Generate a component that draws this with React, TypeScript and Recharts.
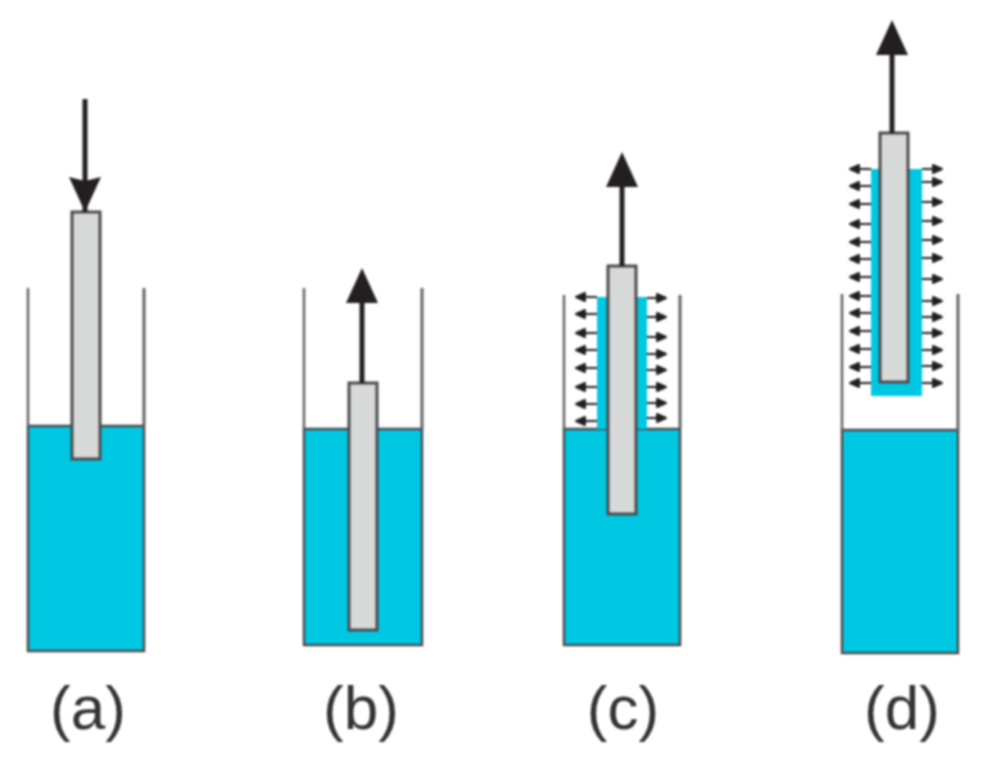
import { ScatterChart, Scatter, XAxis, YAxis, ReferenceArea, ReferenceLine } from "recharts";

const panelLabels = ["(a)", "(b)", "(c)", "(d)"];
const labelX = [88, 361, 623, 902];
const labelBaseline = [729, 729, 729, 729];

// everything below is in picture units, the axes map them 1:1
const wallLeft = [28, 304, 564, 842];
const wallRight = [144, 422, 680, 958];
const wallTop = [288, 288, 295, 294];
const waterLevel = [426, 429, 429, 430];
const waterBottom = [651, 645, 645, 653];

const rodLeft = [72, 349, 608, 880];
const rodRight = [100, 377, 636, 908];
const rodTop = [212, 383, 266, 133];
const rodBottom = [459, 630, 514, 382];

const arrowX = [85, 362, 622, 892];
const arrowFrom = [99, 383, 266, 133];
const arrowTip = [212, 268, 152, 20];

// coating pulled out with the rod, panels c and d
const coatLeft = [597, 871];
const coatRight = [647, 922];
const coatTop = [297, 169];
const coatBottom = [429, 396];

const leftRowsC = [297, 314, 333, 350, 368, 387, 404, 421];
const rightRowsC = [298, 317, 337, 354, 370, 387, 403, 418];
const leftRowsD = [169, 186, 204, 224, 242, 259, 277, 296, 313, 331, 349, 367, 383];
const rightRowsD = [169, 182, 202, 221, 240, 258, 279, 301, 317, 333, 350, 366, 383];
const tipLeft = [575, 849];
const tipRight = [667, 943];

const CYAN = "#00C8E3";
const LINE = "#4b4b4d";
const WALL = "#636365";
const DARK = "#231F20";

const upHeads = [1, 2, 3].map((i) => ({ x: arrowX[i], y: arrowTip[i] }));
const downHeads = [{ x: arrowX[0], y: arrowTip[0] }];
const leftHeads = [
    ...leftRowsC.map((y) => ({ x: tipLeft[0], y })),
    ...leftRowsD.map((y) => ({ x: tipLeft[1], y })),
];
const rightHeads = [
    ...rightRowsC.map((y) => ({ x: tipRight[0], y })),
    ...rightRowsD.map((y) => ({ x: tipRight[1], y })),
];
const labelPoints = panelLabels.map((text, i) => ({ x: labelX[i], y: labelBaseline[i], text }));

const UpHead = ({ cx, cy }: any) => (
    <polygon points={`${cx},${cy} ${cx - 16},${cy + 35} ${cx + 16},${cy + 35}`} fill={DARK} />
);
const DownHead = ({ cx, cy }: any) => (
    <polygon points={`${cx},${cy} ${cx - 16},${cy - 35} ${cx},${cy - 31} ${cx + 16},${cy - 35}`} fill={DARK} />
);
const LeftHead = ({ cx, cy }: any) => (
    <polygon
        points={`${cx + 1},${cy} ${cx + 10},${cy - 4} ${cx + 10},${cy + 4}`}
        fill={DARK}
        stroke={DARK}
        strokeWidth={2}
        strokeLinejoin="round"
    />
);
const RightHead = ({ cx, cy }: any) => (
    <polygon
        points={`${cx - 1},${cy} ${cx - 10},${cy - 4} ${cx - 10},${cy + 4}`}
        fill={DARK}
        stroke={DARK}
        strokeWidth={2}
        strokeLinejoin="round"
    />
);
const PanelLabel = ({ cx, cy, payload }: any) => (
    <text x={cx} y={cy} textAnchor="middle" fontSize={62} fontFamily="Liberation Sans" fill="#333335">
        {payload.text}
    </text>
);

const App = () => {
    return (
        <div style={{ position: "absolute", left: 0, top: 0, background: "#fff", filter: "blur(0.8px)" }}>
            <ScatterChart width={982} height={760} margin={{ top: 0, right: 0, bottom: 0, left: 0 }}>
                <XAxis type="number" dataKey="x" domain={[0, 982]} hide />
                <YAxis type="number" dataKey="y" domain={[0, 760]} reversed hide />

                {wallLeft.map((left, i) => (
                    <ReferenceArea
                        key={`water${i}`}
                        x1={left}
                        x2={wallRight[i]}
                        y1={waterLevel[i]}
                        y2={waterBottom[i]}
                        fill={CYAN}
                        fillOpacity={1}
                        stroke={LINE}
                        strokeWidth={2.5}
                    />
                ))}
                {coatLeft.map((left, i) => (
                    <ReferenceArea
                        key={`coat${i}`}
                        x1={left}
                        x2={coatRight[i]}
                        y1={coatTop[i]}
                        y2={coatBottom[i]}
                        fill={CYAN}
                        fillOpacity={1}
                    />
                ))}
                {rodLeft.map((left, i) => (
                    <ReferenceArea
                        key={`rod${i}`}
                        x1={left}
                        x2={rodRight[i]}
                        y1={rodTop[i]}
                        y2={rodBottom[i]}
                        fill="#D8DADA"
                        fillOpacity={1}
                        stroke={LINE}
                        strokeWidth={3}
                    />
                ))}

                {wallLeft.map((left, i) => (
                    <ReferenceLine
                        key={`wl${i}`}
                        segment={[{ x: left, y: wallTop[i] }, { x: left, y: waterLevel[i] }]}
                        stroke={WALL}
                        strokeWidth={2.5}
                    />
                ))}
                {wallRight.map((right, i) => (
                    <ReferenceLine
                        key={`wr${i}`}
                        segment={[{ x: right, y: wallTop[i] }, { x: right, y: waterLevel[i] }]}
                        stroke={WALL}
                        strokeWidth={3}
                    />
                ))}
                {arrowX.map((x, i) => (
                    <ReferenceLine
                        key={`arrow${i}`}
                        segment={[{ x, y: arrowFrom[i] }, { x, y: i === 0 ? arrowTip[i] : arrowTip[i] + 30 }]}
                        stroke={DARK}
                        strokeWidth={5}
                    />
                ))}

                {leftRowsC.map((y) => (
                    <ReferenceLine key={`lc${y}`} segment={[{ x: coatLeft[0], y }, { x: tipLeft[0] + 8, y }]} stroke={DARK} strokeWidth={2} />
                ))}
                {rightRowsC.map((y) => (
                    <ReferenceLine key={`rc${y}`} segment={[{ x: coatRight[0], y }, { x: tipRight[0] - 8, y }]} stroke={DARK} strokeWidth={2} />
                ))}
                {leftRowsD.map((y) => (
                    <ReferenceLine key={`ld${y}`} segment={[{ x: coatLeft[1], y }, { x: tipLeft[1] + 8, y }]} stroke={DARK} strokeWidth={2} />
                ))}
                {rightRowsD.map((y) => (
                    <ReferenceLine key={`rd${y}`} segment={[{ x: coatRight[1], y }, { x: tipRight[1] - 8, y }]} stroke={DARK} strokeWidth={2} />
                ))}

                <Scatter data={upHeads} shape={UpHead} isAnimationActive={false} />
                <Scatter data={downHeads} shape={DownHead} isAnimationActive={false} />
                <Scatter data={leftHeads} shape={LeftHead} isAnimationActive={false} />
                <Scatter data={rightHeads} shape={RightHead} isAnimationActive={false} />
                <Scatter data={labelPoints} shape={PanelLabel} isAnimationActive={false} />
            </ScatterChart>
        </div>
    );
};

export default App;
